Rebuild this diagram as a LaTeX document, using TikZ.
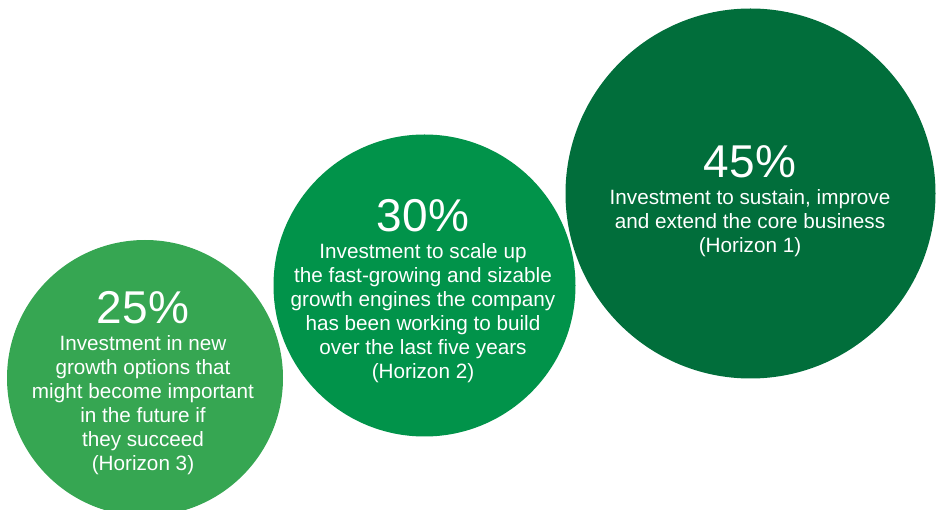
\documentclass[tikz,border=0pt]{standalone}
\usepackage{fontspec}
\setmainfont{Liberation Sans}
\usepackage{xcolor}
\usetikzlibrary{positioning}
\definecolor{hthree}{HTML}{36A652}
\definecolor{htwo}{HTML}{01934A}
\definecolor{hone}{HTML}{016E3B}

\begin{document}
\begin{tikzpicture}[x=1pt, y=-1pt,
    disc/.style={circle, draw=none, inner sep=0pt, minimum size=#1},
    pct/.style={text=white, font=\fontsize{46}{46}\selectfont, inner sep=0pt, anchor=base},
    desc/.style={text=white, font=\fontsize{20.7}{24}\selectfont, align=center, inner sep=0pt}]
        \useasboundingbox (0, 0) rectangle (943, 510);
        \clip (0, 0) rectangle (943, 510);

        \node[disc=370pt, fill=hone] (h1) at (750.5, 193.5) {};
        \node[disc=302pt, fill=htwo] (h2) at (424.5, 285.5) {};
        \node[disc=276pt, fill=hthree] (h3) at (145, 378) {};

        \node[pct] (p1) at (750, 178) {45\%};
        \node[desc, below=10.5pt of p1] (d1) {Investment to sustain, improve\\and extend the core business\\(Horizon 1)};

        \node[pct] (p2) at (423, 232) {30\%};
        \node[desc, below=10.5pt of p2] (d2) {Investment to scale up\\the fast-growing and sizable\\growth engines the company\\has been working to build\\over the last five years\\(Horizon 2)};

        \node[pct] (p3) at (143, 324) {25\%};
        \node[desc, below=10.5pt of p3] (d3) {Investment in new\\growth options that\\might become important\\in the future if\\they succeed\\(Horizon 3)};
    \end{tikzpicture}
\end{document}
